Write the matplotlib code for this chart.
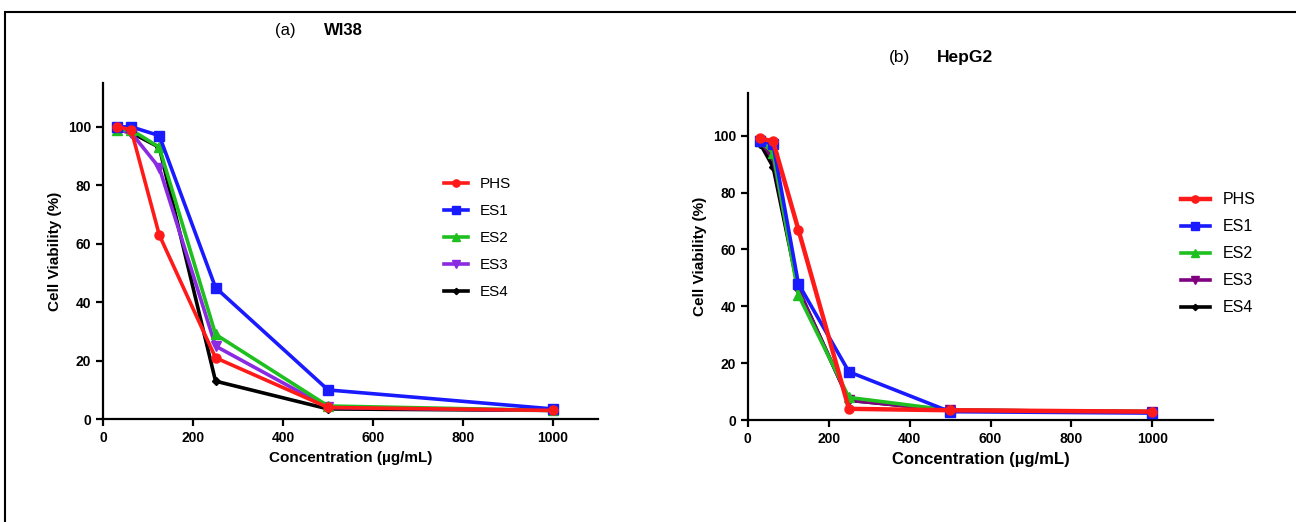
import matplotlib

matplotlib.use("Agg")
import matplotlib.pyplot as plt
from matplotlib.patches import Rectangle

plt.rcParams["font.family"] = ["Liberation Sans", "DejaVu Sans"]

conc = [31.25, 62.5, 125, 250, 500, 1000]
series = ["PHS", "ES1", "ES2", "ES3", "ES4"]

wi38_phs = [100, 99, 63, 21, 4, 3]
wi38_es1 = [100, 100, 97, 45, 10, 3.5]
wi38_es2 = [99, 99, 93, 29, 4.5, 3]
wi38_es3 = [99, 98, 86, 25, 4, 3]
wi38_es4 = [99, 98, 93, 13, 3.5, 3]

hepg2_phs = [99, 98, 67, 4, 3.5, 3]
hepg2_es1 = [98, 97, 48, 17, 3, 2.5]
hepg2_es2 = [98, 94, 44, 8, 3.5, 3]
hepg2_es3 = [98, 92, 46, 7, 3.5, 3]
hepg2_es4 = [97, 89, 46, 7, 3.5, 3]

markers = ["o", "s", "^", "v", "D"]
colors_a = ["#ff1a1a", "#1a1aff", "#1fbf1f", "#8a2be2", "#000000"]
colors_b = ["#ff1a1a", "#1a1aff", "#1fbf1f", "#800080", "#000000"]


def draw_panel(ax, data, colors, lw_first):
    for i, (name, vals) in enumerate(zip(series, data)):
        ax.plot(conc, vals, color=colors[i], marker=markers[i], ms=6.5 if i < 4 else 4,
                lw=lw_first if i == 0 else 2.6, label=name, zorder=5 - i if i else 6)
    ax.spines["top"].set_visible(False)
    ax.spines["right"].set_visible(False)
    ax.spines["left"].set_linewidth(1.6)
    ax.spines["bottom"].set_linewidth(1.6)
    ax.tick_params(width=1.6, length=5, labelsize=10)
    for t in ax.get_xticklabels() + ax.get_yticklabels():
        t.set_fontweight("bold")
    ax.set_ylim(0, 115)
    ax.set_yticks([0, 20, 40, 60, 80, 100])
    ax.set_xticks([0, 200, 400, 600, 800, 1000])
    ax.set_ylabel("Cell Viability (%)", fontsize=11, fontweight="bold")


fig = plt.figure(figsize=(12.96, 5.22), dpi=100)
fig.patches.append(Rectangle((0.004, -0.05), 1.2, 1.027, transform=fig.transFigure,
                             fill=False, edgecolor="black", lw=1.5))

ax1 = fig.add_axes([0.0795, 0.197, 0.382, 0.644])
draw_panel(ax1, [wi38_phs, wi38_es1, wi38_es2, wi38_es3, wi38_es4], colors_a, 2.6)
ax1.set_xlim(0, 1100)
ax1.set_xlabel("Concentration (µg/mL)", fontsize=11, fontweight="bold")
ax1.legend(loc="upper left", bbox_to_anchor=(0.66, 0.76), frameon=False,
           fontsize=11, handlelength=1.6, labelspacing=0.85, markerscale=0.8)
fig.text(0.212, 0.955, "(a)", fontsize=12, va="top")
fig.text(0.25, 0.955, "WI38", fontsize=12, fontweight="bold", va="top")

ax2 = fig.add_axes([0.577, 0.195, 0.359, 0.627])
draw_panel(ax2, [hepg2_phs, hepg2_es1, hepg2_es2, hepg2_es3, hepg2_es4], colors_b, 3.2)
ax2.set_xlim(0, 1150)
ax2.set_xlabel("Concentration (µg/mL)", fontsize=12, fontweight="bold")
ax2.legend(loc="upper left", bbox_to_anchor=(0.9, 0.74), frameon=False,
           fontsize=11.5, handlelength=1.8, labelspacing=0.75, markerscale=0.8)
fig.text(0.686, 0.905, "(b)", fontsize=12.5, va="top")
fig.text(0.723, 0.905, "HepG2", fontsize=12.5, fontweight="bold", va="top")

fig.savefig("out.png", dpi=100)
